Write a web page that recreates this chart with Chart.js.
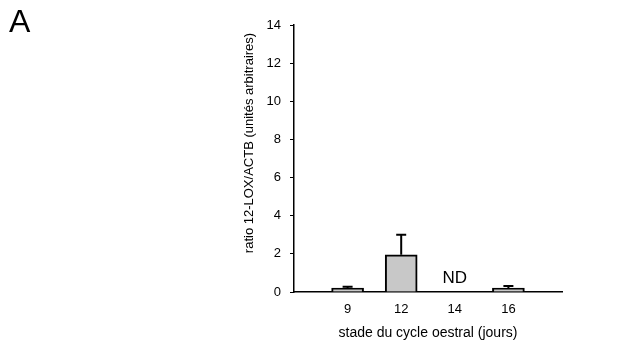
<!DOCTYPE html>
<html>
<head>
<meta charset="utf-8">
<script src="https://cdn.jsdelivr.net/npm/chart.js@4/dist/chart.umd.min.js"></script>
<style>
html,body{margin:0;padding:0;background:#fff;}
#wrap{position:relative;width:636px;height:346px;}
#panel{position:absolute;left:9px;top:3px;font-family:"Liberation Sans",Arial,sans-serif;font-size:32px;line-height:1.15;color:#000;}
</style>
</head>
<body>
<div id="wrap">
<canvas id="c" width="636" height="346"></canvas>
<div id="panel">A</div>
</div>
<script>
// ---- data ----
const categories = ['', '9', '12', '14', '16', ''];
const means      = [null, 0.2, 1.95, null, 0.2, null];
const errors     = [null, 0.08, 1.05, null, 0.12, null];
const notes      = ['', '', '', 'ND', '', ''];
const yTicks     = [0, 2, 4, 6, 8, 10, 12, 14];
const yTitle = 'ratio 12-LOX/ACTB (unités arbitraires)';
const xTitle = 'stade du cycle oestral (jours)';

const FONT = '"Liberation Sans", Arial, sans-serif';

const extras = {
  id: 'extras',
  afterDatasetsDraw(chart) {
    const ctx = chart.ctx;
    const x = chart.scales.x, y = chart.scales.y;
    ctx.save();
    // error bars (upper only)
    ctx.strokeStyle = '#000';
    ctx.lineWidth = 2;
    means.forEach((m, i) => {
      if (m == null || errors[i] == null) return;
      const px = x.getPixelForValue(i);
      const y0 = y.getPixelForValue(m);
      const y1 = y.getPixelForValue(m + errors[i]);
      ctx.beginPath();
      ctx.moveTo(px, y0);
      ctx.lineTo(px, y1);
      ctx.moveTo(px - 5, y1);
      ctx.lineTo(px + 5, y1);
      ctx.stroke();
    });
    // notes
    ctx.fillStyle = '#000';
    ctx.font = '17px ' + FONT;
    ctx.textAlign = 'center';
    ctx.textBaseline = 'alphabetic';
    notes.forEach((n, i) => {
      if (!n) return;
      ctx.fillText(n, x.getPixelForValue(i), y.getPixelForValue(0) - 9);
    });
    // y title
    ctx.font = '13px ' + FONT;
    ctx.translate(249, 143);
    ctx.rotate(-Math.PI / 2);
    ctx.textBaseline = 'middle';
    ctx.fillText(yTitle, 0, 0);
    ctx.restore();
  }
};

new Chart(document.getElementById('c'), {
  type: 'bar',
  data: {
    labels: categories,
    datasets: [{
      data: means,
      backgroundColor: '#c8c8c8',
      borderColor: '#000',
      borderWidth: 2,
      borderSkipped: 'bottom',
      barThickness: 32
    }]
  },
  options: {
    responsive: false,
    animation: false,
    events: [],
    layout: { padding: { left: 234, right: 74, top: 25, bottom: 0 } },
    plugins: { legend: { display: false }, tooltip: { enabled: false } },
    scales: {
      x: {
        offset: false,
        grid: { display: false, drawTicks: false },
        border: { display: true, color: '#000', width: 1.5 },
        ticks: { color: '#000', font: { family: FONT, size: 13 }, padding: 10, maxRotation: 0, autoSkip: false },
        title: { display: true, text: xTitle, color: '#000', font: { family: FONT, size: 14 }, padding: { top: 4, bottom: 4 } },
        afterFit(s) { s.height = 54; }
      },
      y: {
        min: 0, max: 14,
        afterBuildTicks(s) { s.ticks = yTicks.map(v => ({ value: v })); },
        grid: { display: true, drawOnChartArea: false, drawTicks: true, tickLength: 4, color: '#000', lineWidth: 1 },
        border: { display: true, color: '#000', width: 1.5 },
        ticks: { color: '#000', font: { family: FONT, size: 13 }, padding: 9 },
        afterFit(s) { s.width = 60; }
      }
    }
  },
  plugins: [extras]
});
</script>
</body>
</html>
